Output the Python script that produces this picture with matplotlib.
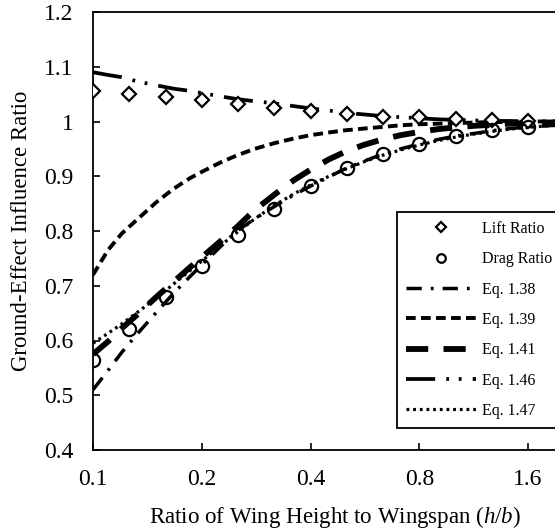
import matplotlib
matplotlib.use("Agg")
import matplotlib.pyplot as plt
from matplotlib.ticker import FixedLocator, FixedFormatter, NullLocator

plt.rcParams['font.family'] = ['Liberation Serif', 'DejaVu Serif']
plt.rcParams['mathtext.fontset'] = 'custom'
plt.rcParams['mathtext.rm'] = 'Liberation Serif'
plt.rcParams['mathtext.it'] = 'Liberation Serif:italic'
plt.rcParams['lines.scale_dashes'] = False

# Experimental points
h_pts = [0.1, 0.126, 0.159, 0.2, 0.252, 0.317, 0.4, 0.504, 0.635, 0.8, 1.008, 1.27, 1.6]
lift_ratio = [1.055, 1.050, 1.045, 1.039, 1.032, 1.025, 1.020, 1.014, 1.009, 1.008, 1.005, 1.003, 1.001]
drag_ratio = [0.564, 0.621, 0.679, 0.736, 0.793, 0.840, 0.882, 0.915, 0.941, 0.959, 0.974, 0.985, 0.990]

# Equation curves
h_eq = [0.1, 0.11, 0.12, 0.133, 0.15, 0.167, 0.185, 0.2, 0.225, 0.25, 0.28, 0.32, 0.36,
        0.4, 0.45, 0.5, 0.56, 0.63, 0.71, 0.8, 0.9, 1.0, 1.13, 1.27, 1.42, 1.6, 1.8, 2.0, 2.2]
eq138 = [0.51, 0.545, 0.578, 0.613, 0.652, 0.686, 0.716, 0.738, 0.771, 0.800, 0.822, 0.846, 0.866,
         0.882, 0.899, 0.914, 0.927, 0.940, 0.950, 0.959, 0.967, 0.973, 0.978, 0.983, 0.987, 0.990, 0.992, 0.994, 0.995]
eq139 = [0.72, 0.765, 0.795, 0.822, 0.853, 0.877, 0.896, 0.908, 0.925, 0.938, 0.950, 0.961, 0.969,
         0.975, 0.980, 0.984, 0.987, 0.990, 0.993, 0.995, 0.996, 0.997, 0.998, 0.999, 0.999, 1.0, 1.0, 1.0, 1.0]
eq141 = [0.575, 0.598, 0.622, 0.648, 0.680, 0.707, 0.733, 0.752, 0.781, 0.807, 0.838, 0.868, 0.893,
         0.912, 0.931, 0.945, 0.957, 0.967, 0.975, 0.981, 0.986, 0.989, 0.992, 0.994, 0.996, 0.997, 0.998, 0.999, 0.999]
eq146 = [1.090, 1.085, 1.081, 1.073, 1.066, 1.060, 1.056, 1.052, 1.046, 1.041, 1.037, 1.033, 1.028,
         1.024, 1.020, 1.016, 1.013, 1.010, 1.008, 1.006, 1.004, 1.003, 1.002, 1.001, 1.001, 1.000, 1.000, 1.000, 1.000]
eq147 = [0.595, 0.613, 0.630, 0.652, 0.678, 0.703, 0.727, 0.745, 0.773, 0.797, 0.822, 0.848, 0.868,
         0.884, 0.900, 0.913, 0.926, 0.938, 0.948, 0.957, 0.965, 0.971, 0.977, 0.982, 0.986, 0.989, 0.992, 0.994, 0.995]

x_ticks = [0.1, 0.2, 0.4, 0.8, 1.6]
x_labels = ["0.1", "0.2", "0.4", "0.8", "1.6"]
y_ticks = [0.4, 0.5, 0.6, 0.7, 0.8, 0.9, 1.0, 1.1, 1.2]
y_labels = ["0.4", "0.5", "0.6", "0.7", "0.8", "0.9", "1", "1.1", "1.2"]

W, H = 555, 529
fig = plt.figure(figsize=(W / 100, H / 100), dpi=100)
left_px, top_px, bottom_px, right_px = 93, 12, 450, 578
ax = fig.add_axes([left_px / W, 1 - bottom_px / H, (right_px - left_px) / W, (bottom_px - top_px) / H])

ax.set_xscale('log', base=2)

ax.plot(h_pts, lift_ratio, linestyle='none', marker='D', markersize=7.5, markerfacecolor='white',
        markeredgecolor='black', markeredgewidth=1.6, label='Lift Ratio', zorder=5)
ax.plot(h_pts, drag_ratio, linestyle='none', marker='o', markersize=9.5, markerfacecolor='none',
        markeredgecolor='black', markeredgewidth=1.6, label='Drag Ratio', zorder=5)

ax.plot(h_eq, eq138, color='black', lw=2.5, linestyle=(0, (11, 6.5, 2, 6.5)), label='Eq. 1.38')
ax.plot(h_eq, eq139, color='black', lw=2.8, linestyle=(0, (7, 3.8)), label='Eq. 1.39')
ax.plot(h_eq, eq141, color='black', lw=4.2, linestyle=(0, (16, 11)), label='Eq. 1.41')
ax.plot(h_eq, eq146, color='black', lw=2.7, linestyle=(0, (21, 8, 2, 7, 2, 8)), label='Eq. 1.46')
ax.plot(h_eq, eq147, color='black', lw=2.3, linestyle=(0, (2, 2.8)), label='Eq. 1.47')

ax.set_xlim(0.1, 2.2)
ax.set_ylim(0.4, 1.2)
ax.xaxis.set_major_locator(FixedLocator(x_ticks))
ax.xaxis.set_major_formatter(FixedFormatter(x_labels))
ax.xaxis.set_minor_locator(NullLocator())
ax.yaxis.set_major_locator(FixedLocator(y_ticks))
ax.yaxis.set_major_formatter(FixedFormatter(y_labels))
ax.yaxis.set_minor_locator(NullLocator())

ax.tick_params(axis='both', direction='in', length=5, width=1.2, labelsize=17, colors='black')
ax.tick_params(axis='x', pad=14)
ax.tick_params(axis='y', pad=14)
for s in ax.spines.values():
    s.set_linewidth(1.3)

ax.set_xlabel('Ratio of Wing Height to Wingspan ($\\it{h/b}$)', fontsize=16.5, labelpad=10)
ax.set_ylabel('Ground-Effect Influence Ratio', fontsize=16.5, labelpad=9)

leg = fig.legend(loc='upper left', bbox_to_anchor=(397 / W, 1 - 212 / H), borderaxespad=0,
                 fontsize=11.5, frameon=True, fancybox=False, edgecolor='black', framealpha=1,
                 handlelength=4.4, handletextpad=0.4, labelspacing=0.9, markerscale=0.65,
                 borderpad=0.55)
leg.get_frame().set_linewidth(1.3)

fig.savefig('out.png', dpi=100)
